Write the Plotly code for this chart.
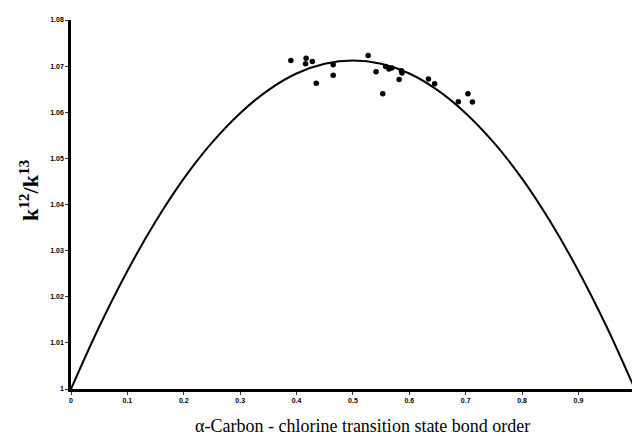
import plotly.graph_objects as go

# Measured kinetic isotope effects vs. alpha-carbon/chlorine bond order
bond_order = [0.390, 0.417, 0.428, 0.416, 0.435, 0.465, 0.465, 0.527, 0.541, 0.553,
              0.558, 0.564, 0.569, 0.586, 0.587, 0.582, 0.634, 0.645, 0.687, 0.704, 0.712]
kie = [1.0712, 1.0717, 1.0710, 1.0705, 1.0663, 1.0703, 1.0680, 1.0723, 1.0688, 1.0640,
       1.0699, 1.0694, 1.0696, 1.0690, 1.0685, 1.0671, 1.0672, 1.0662, 1.0623, 1.0640, 1.0622]

# Model curve
curve_x = [0.0, 0.05, 0.1, 0.15, 0.2, 0.25, 0.3, 0.35, 0.4, 0.45, 0.5,
           0.55, 0.6, 0.65, 0.7, 0.75, 0.8, 0.85, 0.9, 0.95, 1.0]
curve_y = [1.0000, 1.0135, 1.0256, 1.0363, 1.0456, 1.0534, 1.0598, 1.0648, 1.0684, 1.0705, 1.0712,
           1.0705, 1.0684, 1.0648, 1.0598, 1.0534, 1.0456, 1.0363, 1.0256, 1.0135, 1.0000]

x_ticks = [0, 0.1, 0.2, 0.3, 0.4, 0.5, 0.6, 0.7, 0.8, 0.9]
x_tick_text = ["0", "0.1", "0.2", "0.3", "0.4", "0.5", "0.6", "0.7", "0.8", "0.9"]
y_ticks = [1.00, 1.01, 1.02, 1.03, 1.04, 1.05, 1.06, 1.07, 1.08]
y_tick_text = ["1", "1.01", "1.02", "1.03", "1.04", "1.05", "1.06", "1.07", "1.08"]

fig = go.Figure()
fig.add_trace(go.Scatter(x=curve_x, y=curve_y, mode="lines",
                         line=dict(color="black", width=2, shape="spline"),
                         hoverinfo="skip"))
fig.add_trace(go.Scatter(x=bond_order, y=kie, mode="markers",
                         marker=dict(color="black", size=5.5)))

tick_font = dict(family="Liberation Sans", size=7, color="black", weight="bold")
fig.update_layout(
    width=632, height=438,
    margin=dict(l=71, r=0, t=20, b=49),
    paper_bgcolor="white", plot_bgcolor="white",
    showlegend=False,
    xaxis=dict(range=[0, 0.995], tickvals=x_ticks, ticktext=x_tick_text,
               showgrid=False, zeroline=False, showline=True, linecolor="black",
               linewidth=2.5, ticks="outside", ticklen=3, tickcolor="#333",
               tickfont=tick_font),
    yaxis=dict(range=[1.0, 1.08], tickvals=y_ticks, ticktext=y_tick_text,
               showgrid=False, zeroline=False, showline=True, linecolor="black",
               linewidth=2.5, ticks="outside", ticklen=3, tickcolor="#333",
               tickfont=tick_font),
    annotations=[
        dict(text="α-Carbon - chlorine transition state bond order",
             xref="paper", yref="paper", x=0.52, y=-0.1, xanchor="center",
             yanchor="middle", showarrow=False,
             font=dict(family="Liberation Serif", size=18, color="black")),
        dict(text="k<sup>12</sup>/k<sup>13</sup>", textangle=-90,
             xref="paper", yref="paper", x=-0.076, y=0.54, xanchor="center",
             yanchor="middle", showarrow=False,
             font=dict(family="Liberation Serif", size=22, color="black",
                       weight="bold")),
    ],
)

fig.write_html("out.html")
